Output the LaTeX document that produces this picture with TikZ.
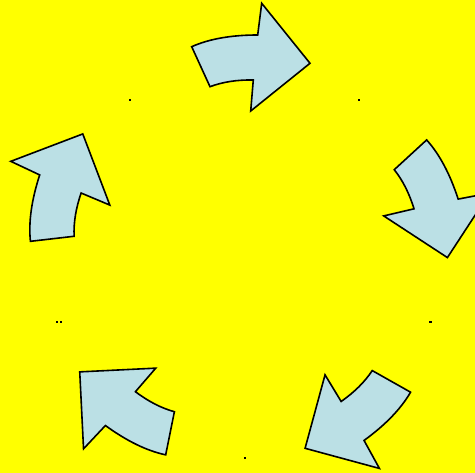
\documentclass[tikz,border=0pt]{standalone}
\usepackage{tikz}
\usepackage{xcolor}
\definecolor{canary}{HTML}{FFFF00}
\definecolor{powder}{RGB}{187,224,229}

\begin{document}
\begin{tikzpicture}[x=1pt, y=-1pt]
\tikzset{
  bendarrow/.style={fill=powder, draw=black, line width=1.6pt, line join=miter},
  speck/.style={fill=black}
}

%--- Background (also fixes the page size)
\fill[canary] (0,0) rectangle (475,473);
\useasboundingbox (0,0) rectangle (475,473);

%--- Five bent arrows, each turned 72 degrees round the middle
\foreach \k in {0,...,4} {
  \draw[bendarrow, rotate around={-72*\k:(245,255)}]
    (191.7,46.7) .. controls (209.2,38.9) and (231.2,35) .. (257.7,35)
    -- (261.7,3.3) -- (310,63.3) -- (250.7,111) -- (253.3,80)
    .. controls (237.2,79.7) and (222.8,81.9) .. (210,86.7) -- cycle;
}

%--- Small specks between the arrows
\fill[speck] (129,99) rectangle (131,101);
\fill[speck] (358,99) rectangle (360,101);
\fill[speck] (429,321) rectangle (432,323);
\fill[speck] (56,321) rectangle (58,323);
\fill[speck] (60,321) rectangle (62,323);
\fill[speck] (243.5,457) rectangle (245.5,459);

\end{tikzpicture}
\end{document}
